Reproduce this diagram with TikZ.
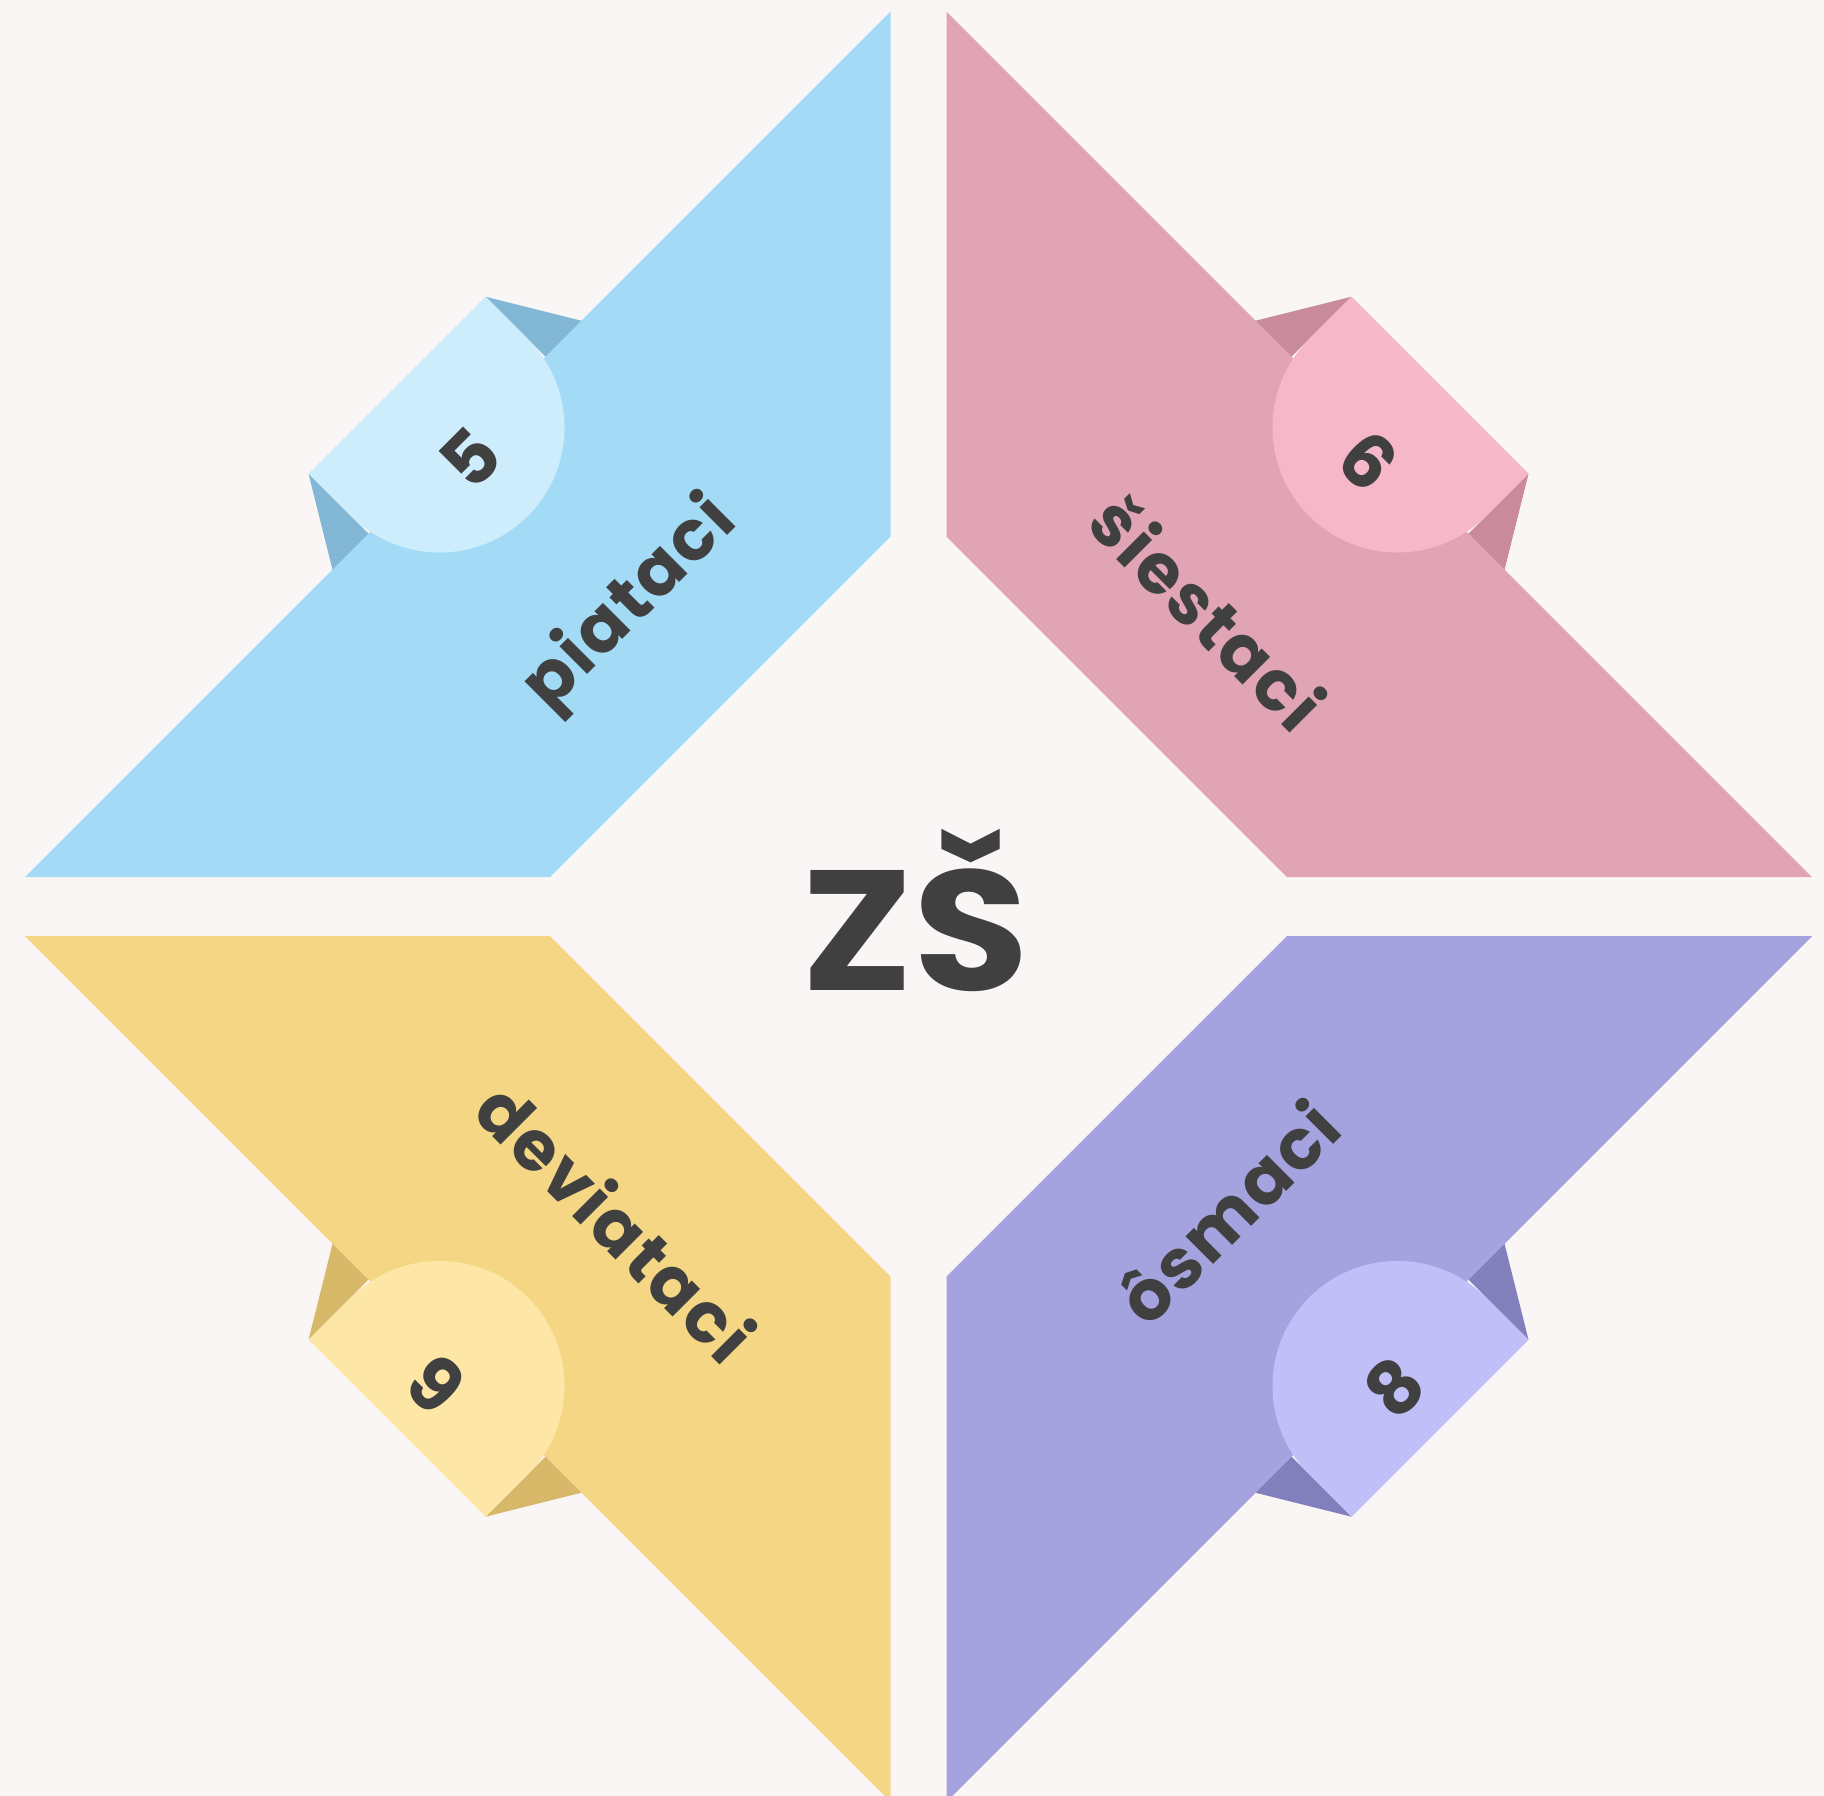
\documentclass[tikz,border=0pt]{standalone}
\usepackage{fontspec}
\setmainfont{Poppins}
\newfontfamily\wordfont{Poppins}[LetterSpace=3]
\definecolor{bg}{HTML}{F9F6F5}
\definecolor{ink}{HTML}{404040}
\definecolor{bluestrip}{HTML}{A3DBF6}
\definecolor{bluetab}{HTML}{CDEDFD}
\definecolor{bluefold}{HTML}{82B8D5}
\definecolor{pinkstrip}{HTML}{E0A4B4}
\definecolor{pinktab}{HTML}{F6B7C9}
\definecolor{pinkfold}{HTML}{C98A9C}
\definecolor{yellowstrip}{HTML}{F5D685}
\definecolor{yellowtab}{HTML}{FEE7A6}
\definecolor{yellowfold}{HTML}{D8B96A}
\definecolor{purplestrip}{HTML}{A4A3E0}
\definecolor{purpletab}{HTML}{C0BFF7}
\definecolor{purplefold}{HTML}{8180BD}
\newcommand\quadshape[3]{%
  \fill[#1] (-28,895) -- (-28,370) -- (-368.5,29.5) -- (-893.5,29.5) -- cycle;
  \fill[#3] (-433,610) -- (-337,586) -- (-373,550) -- cycle;
  \fill[#3] (-610,433) -- (-586,337) -- (-550,373) -- cycle;
  \fill[#2] (-433,610) -- (-390.6,567.6) arc[start angle=45, end angle=-135, radius=125] -- (-610,433) -- cycle;
}
\tikzset{
  word/.style={text=ink, font=\wordfont\bfseries\fontsize{70}{70}\selectfont, inner sep=0pt},
  num/.style={text=ink, font=\bfseries\fontsize{74}{74}\selectfont, inner sep=0pt},
  title/.style={text=ink, font=\bfseries\fontsize{171}{171}\selectfont, inner sep=0pt, anchor=base, xscale=1.1}
}
\begin{document}
\begin{tikzpicture}[x=1pt,y=1pt]
\fill[bg] (0,0) rectangle (1824,1796);
\useasboundingbox (0,0) rectangle (1824,1796);
\clip (0,0) rectangle (1824,1796);
\begin{scope}[shift={(918.5,889.25)}]
  \begin{scope}\quadshape{bluestrip}{bluetab}{bluefold}\end{scope}
  \begin{scope}[xscale=-1]\quadshape{pinkstrip}{pinktab}{pinkfold}\end{scope}
  \begin{scope}[yscale=-1]\quadshape{yellowstrip}{yellowtab}{yellowfold}\end{scope}
  \begin{scope}[xscale=-1,yscale=-1]\quadshape{purplestrip}{purpletab}{purplefold}\end{scope}
  \node[word, rotate=45] (w5) at (-287.4,301.9) {piataci};
  \node[word, rotate=-45] (w6) at (290.1,294.9) {šiestaci};
  \node[word, rotate=-45] (w9) at (-302,-314.7) {deviataci};
  \node[word, rotate=45] (w8) at (308.8,-304.8) {ôsmaci};
  \node[num, rotate=45] (n5) at (-448.5,448.5) {5};
  \node[num, rotate=-45] (n6) at (449.8,445.8) {6};
  \node[num, rotate=-45] (n9) at (-482.3,-477.3) {9};
  \node[num, rotate=45] (n8) at (475.5,-480.3) {8};
  \node[title] (zs) at (-3.5,-84) {ZŠ};
\end{scope}
\end{tikzpicture}
\end{document}
